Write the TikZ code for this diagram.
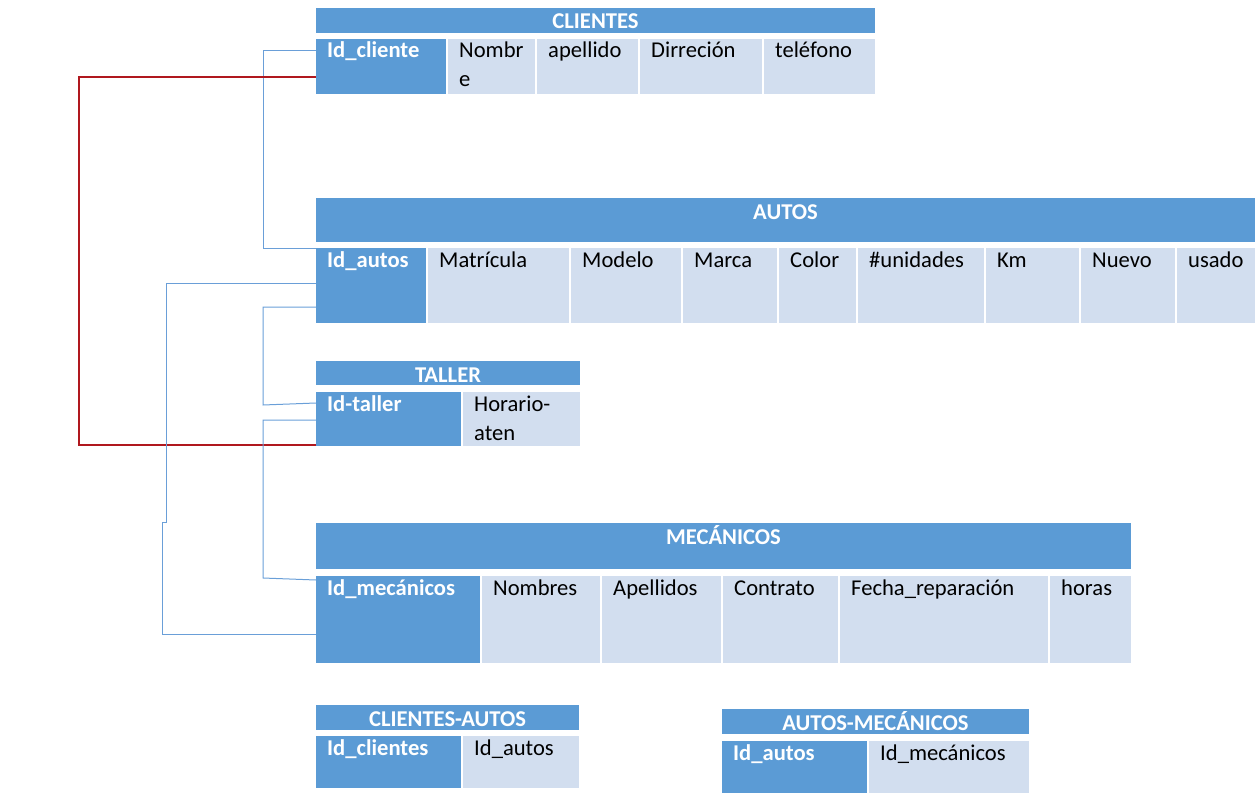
\documentclass[tikz,border=0pt]{standalone}
\usepackage{fontspec}
\setmainfont{Carlito}
\usetikzlibrary{calc}
\definecolor{hdr}{HTML}{5B9BD5}
\definecolor{lgt}{HTML}{D2DEEF}
\definecolor{fkblue}{HTML}{6A9FD8}
\definecolor{fkred}{HTML}{B0181E}
\tikzset{
  box/.style={inner sep=0pt, outer sep=0pt, anchor=north west, draw=none},
  hdrbox/.style={box, fill=hdr},
  keybox/.style={box, fill=hdr},
  attrbox/.style={box, fill=lgt},
  hdrtext/.style={text=white, font=\fontsize{22.6}{29}\selectfont\bfseries, inner sep=0pt, anchor=base},
  keytext/.style={text=white, font=\fontsize{22.6}{29}\selectfont\bfseries, inner sep=0pt, anchor=base west},
  attrtext/.style={text=black, font=\fontsize{22.6}{29}\selectfont, inner sep=0pt, anchor=base west},
  fk/.style={draw=fkblue, line width=1pt},
  fkr/.style={draw=fkred, line width=1.1pt},
}
\newcommand\mkcell[7]{%
  \node[#1box, minimum width={(#5-#3)*1pt}, minimum height={(#6-#4)*1pt}] (#2) at (#3,#4) {};
  \node[#1text] (#2t) at ($(#2.north west)+(11,19)$) {#7};
}
\newcommand\mkhead[6]{%
  \node[hdrbox, minimum width={(#4-#2)*1pt}, minimum height={(#5-#3)*1pt}] (#1) at (#2,#3) {};
  \node[hdrtext] (#1t) at ($(#1.north)+(0,21)$) {#6};
}
\begin{document}
\begin{tikzpicture}[x=1pt,y=-1pt]
\useasboundingbox (0,0) rectangle (1260,797);

% CLIENTES
\mkhead{hcli}{316}{8}{875}{33}{CLIENTES}
\mkcell{key}{idcli}{316}{39}{446}{94}{Id\_cliente}
\mkcell{attr}{cnom}{448}{39}{535}{94}{Nombr}
\node[attrtext] (cnom2) at ($(cnom.north west)+(11,48)$) {e};
\mkcell{attr}{cape}{537}{39}{638}{94}{apellido}
\mkcell{attr}{cdir}{640}{39}{762}{94}{Dirreción}
\mkcell{attr}{ctel}{764}{39}{875}{94}{teléfono}

% AUTOS
\mkhead{haut}{316}{198}{1255}{242}{AUTOS}
\mkcell{key}{idautos}{316}{248}{426}{323}{Id\_autos}
\mkcell{attr}{amat}{428}{248}{569}{323}{Matrícula}
\mkcell{attr}{amod}{571}{248}{681}{323}{Modelo}
\mkcell{attr}{amar}{683}{248}{777}{323}{Marca}
\mkcell{attr}{acol}{779}{248}{856}{323}{Color}
\mkcell{attr}{auni}{858}{248}{984}{323}{\#unidades}
\mkcell{attr}{akm}{986}{248}{1079}{323}{Km}
\mkcell{attr}{anue}{1081}{248}{1175}{323}{Nuevo}
\mkcell{attr}{ausa}{1177}{248}{1255}{323}{usado}

% TALLER
\mkhead{htal}{316}{361}{580}{385}{TALLER}
\mkcell{key}{idtaller}{316}{392}{461}{446}{Id-taller}
\mkcell{attr}{thor}{463}{392}{580}{446}{Horario-}
\node[attrtext] (thor2) at ($(thor.north west)+(11,48)$) {aten};

% MECANICOS
\mkhead{hmec}{316}{523}{1131}{569}{MECÁNICOS}
\mkcell{key}{idmec}{316}{576}{480}{663}{Id\_mecánicos}
\mkcell{attr}{mnom}{482}{576}{600}{663}{Nombres}
\mkcell{attr}{mape}{602}{576}{721}{663}{Apellidos}
\mkcell{attr}{mcon}{723}{576}{838}{663}{Contrato}
\mkcell{attr}{mfec}{840}{576}{1048}{663}{Fecha\_reparación}
\mkcell{attr}{mhor}{1050}{576}{1131}{663}{horas}

% CLIENTES-AUTOS
\mkhead{hca}{316}{705}{579}{730}{CLIENTES-AUTOS}
\mkcell{key}{caidc}{316}{736}{461}{788}{Id\_clientes}
\mkcell{attr}{caida}{463}{736}{579}{788}{Id\_autos}

% AUTOS-MECANICOS
\mkhead{ham}{722}{709}{1029}{734}{AUTOS-MECÁNICOS}
\mkcell{key}{amida}{722}{741}{867}{793}{Id\_autos}
\mkcell{attr}{amidm}{869}{741}{1029}{793}{Id\_mecánicos}

% connectors
\draw[fk] ([yshift=-12pt]idcli.north west) -- ++(-53,0) |- (idautos.north west);
\draw[fkr] ([yshift=-38pt]idcli.north west) -- ++(-237,0) |- ([yshift=1pt]idtaller.south west);
\draw[fk] ([yshift=-35pt]idautos.north west) -- ++(-150,0) -- ++(0,239) -- ++(-4,0) |- ([yshift=-58pt]idmec.north west);
\draw[fk] ([yshift=-59pt]idautos.north west) -- ++(-53,0) -- ++(0,98) -- ([yshift=-11pt]idtaller.north west);
\draw[fk] ([yshift=-28pt]idtaller.north west) -- ++(-53,0) -- ++(0,158) -- ([yshift=-4pt]idmec.north west);
\end{tikzpicture}
\end{document}
